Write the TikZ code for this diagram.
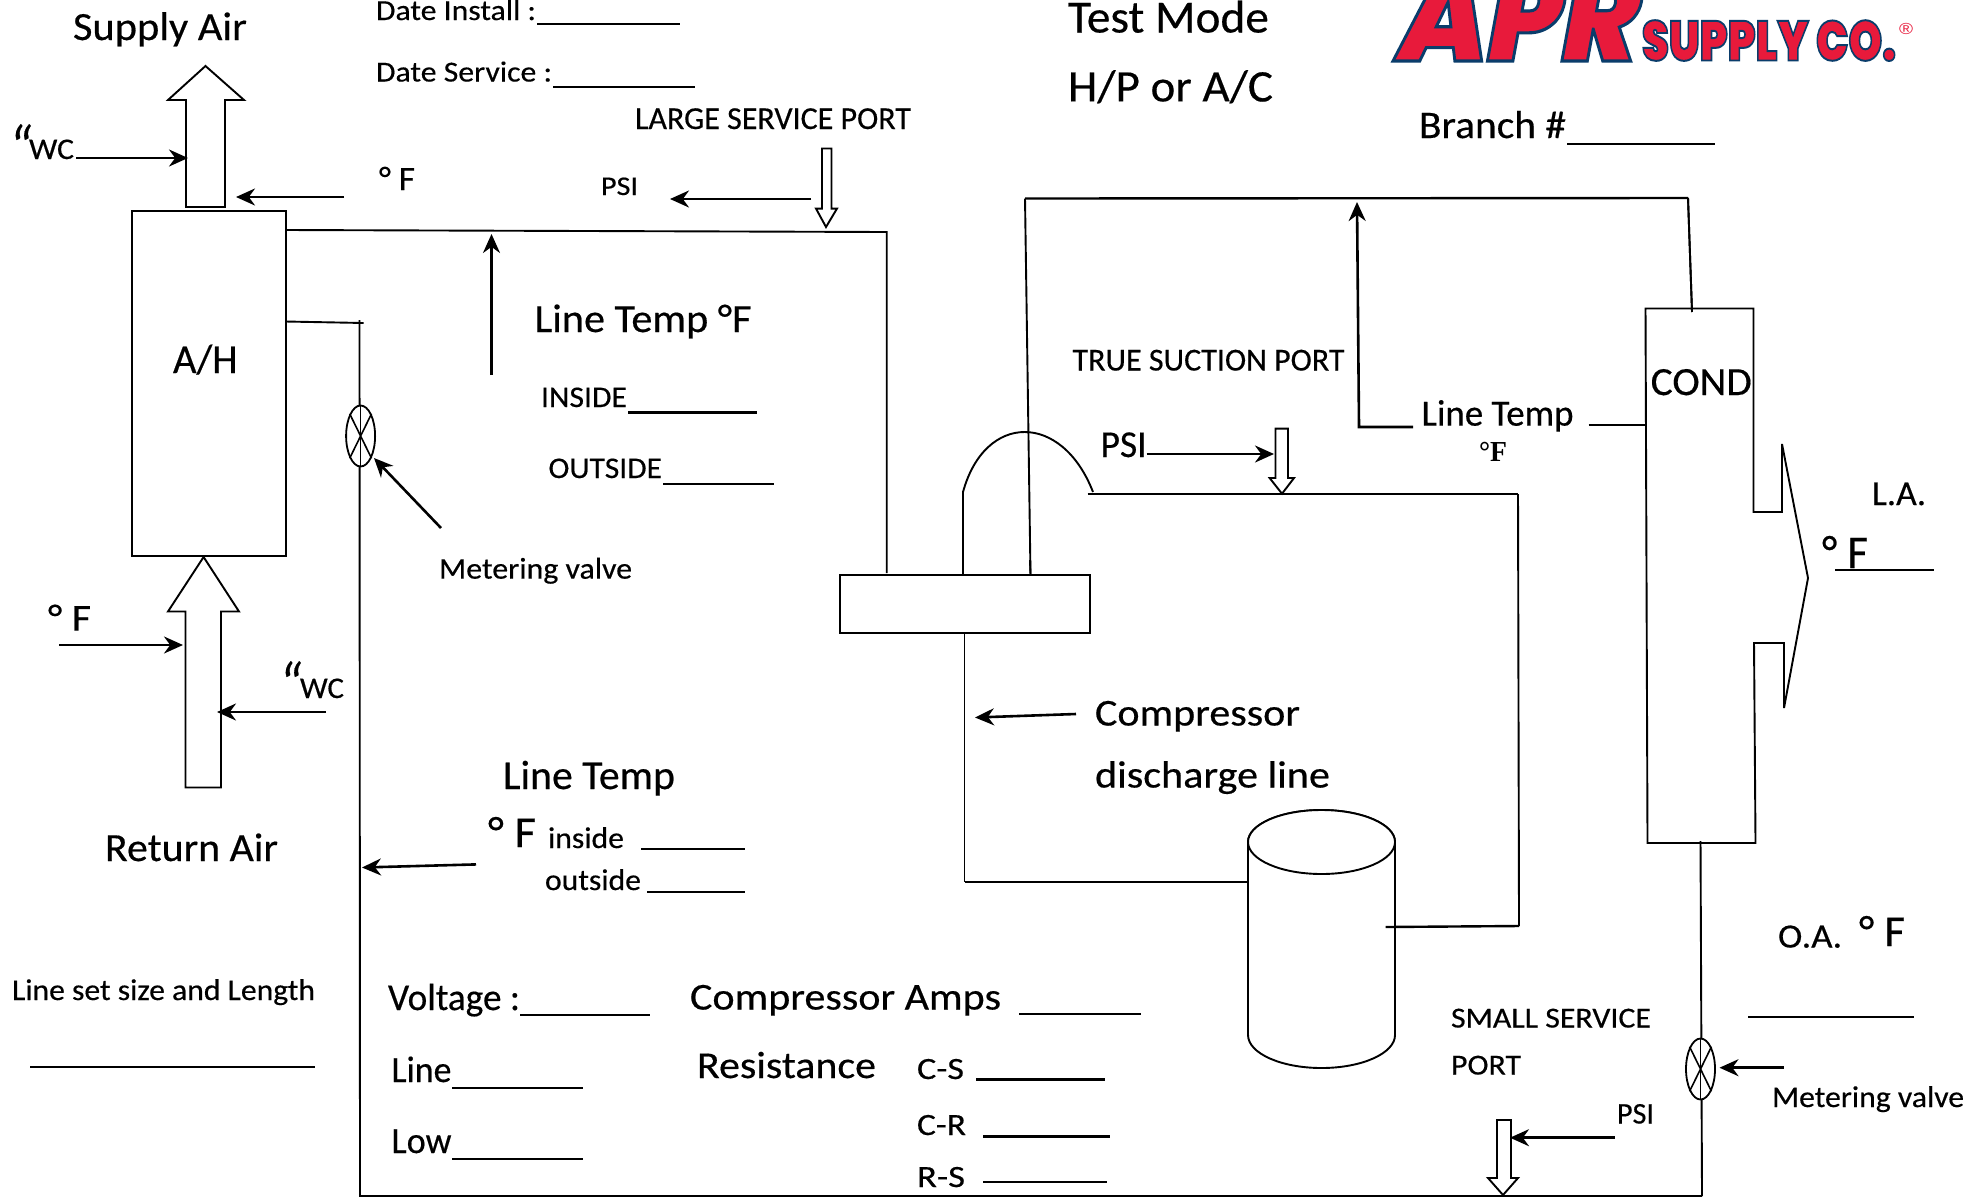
\documentclass[tikz,border=0pt]{standalone}
\usepackage{fontspec}
\usepackage{graphicx}
\usetikzlibrary{arrows.meta,shapes.geometric}
\setmainfont[FakeBold=0.4]{Carlito}
\newfontfamily\serifmark{Liberation Serif}
\newfontfamily\logofont[FakeSlant=0.2,FakeBold=2.5]{Poppins Black}
\newfontfamily\logosmall[FakeBold=3.5]{Poppins Black}
\newfontfamily\logoreg{Liberation Sans}
\definecolor{logored}{HTML}{E81A3B}
\definecolor{logonavy}{HTML}{0B3D6B}
% width-fitted text: width, size, text
\newcommand\ftxt[3]{\fontsize{#2}{#2}\selectfont\setbox0\hbox{#3}\pgfmathsetmacro\fitratio{#1/\the\wd0}\scalebox{\fitratio}[1]{#3}}
\newcommand\navystroke{\special{pdf:code 0.04 0.24 0.42 RG}}
\tikzset{
  txt/.style={anchor=base west,inner sep=0pt,outer sep=0pt,text=black},
  pipe/.style={draw=black,line width=1.9pt},
  rule/.style={draw=black,line width=2.2pt},
  ptr/.style={draw=black,line width=2.6pt,-{Stealth[length=19pt,width=17pt]}},
  blockarrow/.style={draw=black,line width=1.9pt,fill=white,line join=miter},
  boxnode/.style={draw=black,line width=2pt,fill=white,inner sep=0pt,outer sep=0pt},
  valve/.style={draw=black,line width=1.8pt,ellipse,fill=white,inner sep=0pt}
}
\begin{document}
\begin{tikzpicture}[x=1pt,y=-1pt]
\useasboundingbox (0,0) rectangle (1977,1200);
\fill[white] (0,0) rectangle (1977,1200);

% ---------- pipes under everything
\coordinate (sucA) at (285.5,230); \coordinate (sucB) at (886.7,232); \coordinate (sucC) at (886.7,573);
\draw[pipe] (sucA) -- (sucB) -- (sucC);
\coordinate (liqA) at (285.5,321.5); \coordinate (liqB) at (363.6,323); \coordinate (liqT) at (359.5,320); \coordinate (liqD) at (360,1196); \coordinate (liqE) at (1702,1196);
\draw[pipe] (liqA) -- (liqB);
\draw[pipe] (liqT) -- (liqD) -- (liqE);
\coordinate (condOut) at (1700.5,841); \coordinate (condOutB) at (1702,1196);
\draw[pipe] (condOut) -- (condOutB);
\coordinate (dA) at (1030.5,575); \coordinate (dB) at (1025,198.5); \coordinate (dC) at (1688,198); \coordinate (dD) at (1692,312);
\draw[pipe] (dA) -- (dB);
\draw[pipe,line width=2.4pt] (dB) -- (dC);
\draw[pipe] (dC) -- (dD);
\coordinate (domeL) at (963,492); \coordinate (domeLb) at (963,575); \coordinate (domeR) at (1093,492);
\draw[pipe] (domeLb) -- (domeL) .. controls (985,412) and (1062,412) .. (domeR);
\coordinate (retA) at (1087.5,494); \coordinate (retB) at (1518,494); \coordinate (retC) at (1519,926); \coordinate (retD) at (1385.5,927);
\draw[pipe,line width=2.4pt] (retA) -- (retB);
\draw[pipe] (retB) -- (retC);
\coordinate (disA) at (964.5,634); \coordinate (disB) at (964.5,882); \coordinate (disC) at (1248,882);
\draw[pipe] (disA) -- (disB);
\draw[pipe,line width=2.4pt] (disB) -- (disC);

% ---------- boxes
\node[boxnode,minimum width=153.5pt,minimum height=345pt] (ah) at (208.75,383) {};
\node[boxnode,minimum width=250pt,minimum height=58pt] (comp) at (964.5,604) {};
\draw[pipe] (dA) -- (1030,560);

% condenser
\coordinate (cn1) at (1645.5,308.5); \coordinate (cn2) at (1753.5,308.5); \coordinate (cn3) at (1753.5,512);
\coordinate (cn4) at (1782,512); \coordinate (cn5) at (1782,444); \coordinate (cn6) at (1808,578);
\coordinate (cn7) at (1784,708); \coordinate (cn8) at (1784,643); \coordinate (cn9) at (1754,643);
\coordinate (cn10) at (1755.5,843); \coordinate (cn11) at (1647.5,843);
\draw[pipe,line join=miter] (cn1) -- (cn2) -- (cn3) -- (cn4) -- (cn5) -- (cn6) -- (cn7) -- (cn8) -- (cn9) -- (cn10) -- (cn11) -- cycle;
\draw[pipe] (dC) -- (dD);

% cylinder
\coordinate (cyL) at (1248,842); \coordinate (cyR) at (1395,842); \coordinate (cyLb) at (1248,1035); \coordinate (cyRb) at (1395,1035);
\draw[pipe,fill=white] (cyL) -- (cyLb) arc[start angle=180,end angle=360,x radius=73.5,y radius=-33] -- (cyR) arc[start angle=0,end angle=180,x radius=73.5,y radius=-32];
\draw[pipe,fill=white] (1321.5,842) ellipse[x radius=73.5,y radius=32];
\draw[pipe,line width=2.4pt] (retC) -- (retD);

% ---------- block arrows
\coordinate (sa1) at (205.5,66);
\draw[blockarrow] (sa1) -- (244,100) -- (225,100) -- (225,207) -- (186,207) -- (186,100) -- (168,100) -- cycle;
\coordinate (ra1) at (203.6,557);
\draw[blockarrow] (ra1) -- (239,611.5) -- (221,611.5) -- (221,787.5) -- (185.5,787.5) -- (185.5,611.5) -- (168,611.5) -- cycle;
\coordinate (lp1) at (826,227);
\draw[blockarrow] (lp1) -- (837,208.6) -- (831.5,208.6) -- (831.5,148.5) -- (822,148.5) -- (822,208.6) -- (816,208.6) -- cycle;
\coordinate (tp1) at (1282,493.7);
\draw[blockarrow] (tp1) -- (1294,478) -- (1288,478) -- (1288,428.6) -- (1275.5,428.6) -- (1275.5,478) -- (1269.6,478) -- cycle;
\coordinate (sp1) at (1503,1195);
\draw[blockarrow] (sp1) -- (1518,1178) -- (1511,1178) -- (1511,1120) -- (1497,1120) -- (1497,1178) -- (1488,1178) -- cycle;

% ---------- valves
\node[valve,minimum width=29pt,minimum height=61pt] (v1) at (360.6,436) {};
\draw[line width=1.6pt] (v1.north west) -- (v1.south east) (v1.north east) -- (v1.south west);
\node[valve,minimum width=29pt,minimum height=61pt] (v2) at (1700.5,1069) {};
\draw[line width=1.6pt] (v2.north west) -- (v2.south east) (v2.north east) -- (v2.south west);
\draw[line width=1.6pt] (v1.north) -- (v1.south) (v2.north) -- (v2.south);

% ---------- pointer arrows
\coordinate (p1s) at (76,158); \coordinate (p1e) at (188,158); \draw[ptr] (p1s) -- (p1e);
\coordinate (p2s) at (344,197); \coordinate (p2e) at (236,197); \draw[ptr] (p2s) -- (p2e);
\coordinate (p3s) at (811,199); \coordinate (p3e) at (670,199); \draw[ptr] (p3s) -- (p3e);
\coordinate (p4s) at (491.5,375); \coordinate (p4e) at (491.5,234); \draw[ptr] (p4s) -- (p4e);
\coordinate (p5s) at (441,528); \coordinate (p5e) at (374,458); \draw[ptr] (p5s) -- (p5e);
\coordinate (p6s) at (59.4,645); \coordinate (p6e) at (183,645); \draw[ptr] (p6s) -- (p6e);
\coordinate (p7s) at (326,712); \coordinate (p7e) at (217,712); \draw[ptr] (p7s) -- (p7e);
\coordinate (p8s) at (476,864.4); \coordinate (p8e) at (362,867.5); \draw[ptr] (p8s) -- (p8e);
\coordinate (p9s) at (1146.5,454); \coordinate (p9e) at (1274,454); \draw[ptr] (p9s) -- (p9e);
\coordinate (p10s) at (1076,714); \coordinate (p10e) at (975,717.5); \draw[ptr] (p10s) -- (p10e);
\coordinate (p11s) at (1614.7,1137.7); \coordinate (p11e) at (1510,1137.7); \draw[ptr] (p11s) -- (p11e);
\coordinate (p12s) at (1783.6,1067.7); \coordinate (p12e) at (1719.5,1067.7); \draw[ptr] (p12s) -- (p12e);
\coordinate (p13s) at (1413,427); \coordinate (p13c) at (1359,427); \coordinate (p13e) at (1357,202);
\draw[ptr] (p13s) -- (p13c) -- (p13e);
\coordinate (p14s) at (1588.5,425); \coordinate (p14e) at (1645.5,425); \draw[rule] (p14s) -- (p14e);

% ---------- fill-in rules
\foreach \nm/\xa/\xb/\yy in {r1/537/680/24, r2/553/695/87, r3/628/757/412.5, r4/663/774/484,
  r5/641/745/849, r6/647/745/892, r7/30/315/1067, r8/520/650/1015, r9/452/583/1088, r10/452/583/1159,
  r11/1019/1141/1014, r12/976/1105/1079.5, r13/983/1110/1136.5, r14/983/1107/1182,
  r15/1567/1715/144, r16/1835/1934/570, r17/1748/1914/1017}{
  \coordinate (\nm a) at (\xa,\yy); \coordinate (\nm b) at (\xb,\yy);
  \draw[rule] (\nm a) -- (\nm b);
}

% ---------- text
\node[txt] (tSupply) at (73,40) {\ftxt{174}{40}{Supply Air}};
\node[txt] (tDateI) at (376,20) {\ftxt{160}{29}{Date Install :}};
\node[txt] (tDateS) at (376,81.5) {\ftxt{176}{29}{Date Service :}};
\node[txt] (tLarge) at (635,129) {\ftxt{276}{32}{LARGE SERVICE PORT}};
\node[txt] (tQ1) at (9,171) {\ftxt{22}{65}{\itshape “}};
\node[txt] (tWC1) at (29,159) {\ftxt{45}{30}{WC}};
\node[txt] (tF1) at (379,190) {\ftxt{36}{34}{° F}};
\node[txt] (tPSI1) at (601,195) {\ftxt{37}{27}{PSI}};
\node[txt] (tLT1) at (534.5,332) {\ftxt{217}{40}{Line Temp °F}};
\node[txt] (tIns) at (541,407) {\ftxt{86}{30}{INSIDE}};
\node[txt] (tOut) at (548.5,478) {\ftxt{113.5}{30}{OUTSIDE}};
\node[txt] (tAH) at (173,373) {\ftxt{64.6}{41}{A/H}};
\node[txt] (tMV1) at (439,578.6) {\ftxt{193}{30}{Metering valve}};
\node[txt] (tF2) at (48,630.6) {\ftxt{43}{38}{° F}};
\node[txt] (tQ2) at (279,708) {\ftxt{22}{65}{\itshape “}};
\node[txt] (tWC2) at (300,698) {\ftxt{44}{30}{WC}};
\node[txt] (tReturn) at (105,861) {\ftxt{173}{40}{Return Air}};
\node[txt] (tLT2) at (503,789) {\ftxt{172}{41}{Line Temp}};
\node[txt] (tF3) at (488,847) {\ftxt{48}{44}{° F}};
\node[txt] (tInside) at (548,848) {\ftxt{76}{30}{inside}};
\node[txt] (tOutside) at (545,890) {\ftxt{96}{30}{outside}};
\node[txt] (tLineSet) at (12,1000) {\ftxt{303}{30}{Line set size and Length}};
\node[txt] (tVolt) at (388,1010) {\ftxt{132}{38}{Voltage :}};
\node[txt] (tLine) at (391.5,1082) {\ftxt{60}{37}{Line}};
\node[txt] (tLow) at (391.5,1153) {\ftxt{60}{37}{Low}};
\node[txt] (tAmps) at (690,1009.5) {\ftxt{311}{38}{Compressor Amps}};
\node[txt] (tRes) at (697,1078) {\ftxt{179}{38}{Resistance}};
\node[txt] (tCS) at (917,1079) {\ftxt{47}{31}{C-S}};
\node[txt] (tCR) at (917,1135) {\ftxt{49}{31}{C-R}};
\node[txt] (tRS) at (917,1187) {\ftxt{48}{31}{R-S}};
\node[txt] (tTest) at (1068,32.5) {\ftxt{201}{46}{Test Mode}};
\node[txt] (tHP) at (1068,101.4) {\ftxt{205}{45}{H/P or A/C}};
\node[txt] (tBranch) at (1419,138) {\ftxt{147}{39}{Branch \#}};
\node[txt] (tTrue) at (1072.5,370.5) {\ftxt{272}{32}{TRUE SUCTION PORT}};
\node[txt] (tPSI2) at (1100.6,457) {\ftxt{46}{38}{PSI}};
\node[txt] (tLT3) at (1421.5,425.6) {\ftxt{152}{37}{Line Temp}};
\node[txt] (tF4) at (1479,461) {\ftxt{28}{29}{\serifmark\bfseries °F}};
\node[txt] (tCond) at (1650.7,395) {\ftxt{101}{40}{COND}};
\node[txt] (tLA) at (1872,505) {\ftxt{54}{35}{L.A.}};
\node[txt] (tF5) at (1822,568) {\ftxt{46}{47}{° F}};
\node[txt] (tComp) at (1095,725.5) {\ftxt{205}{38}{Compressor}};
\node[txt] (tDisc) at (1095,787.5) {\ftxt{235}{38}{discharge line}};
\node[txt] (tOA) at (1778,947.5) {\ftxt{64}{34}{O.A.}};
\node[txt] (tF6) at (1859,946) {\ftxt{46}{44}{° F}};
\node[txt] (tSmall) at (1451,1027.5) {\ftxt{200}{29}{SMALL SERVICE}};
\node[txt] (tPort) at (1451,1074.5) {\ftxt{70}{29}{PORT}};
\node[txt] (tPSI3) at (1617,1123.5) {\ftxt{37}{30}{PSI}};
\node[txt] (tMV2) at (1772,1107) {\ftxt{192}{30}{Metering valve}};

% ---------- logo
\node[txt,text=logored] (logoA) at (1393,61) {\ftxt{240}{125}{\logofont\navystroke APR}};
\node[txt,text=logored] (logoS) at (1642,60.5) {\ftxt{254}{56}{\logosmall\navystroke SUPPLY CO.}};
\node[txt,text=logored] (logoR) at (1899,34) {\ftxt{14}{16}{\logoreg ®}};
\end{tikzpicture}
\end{document}
